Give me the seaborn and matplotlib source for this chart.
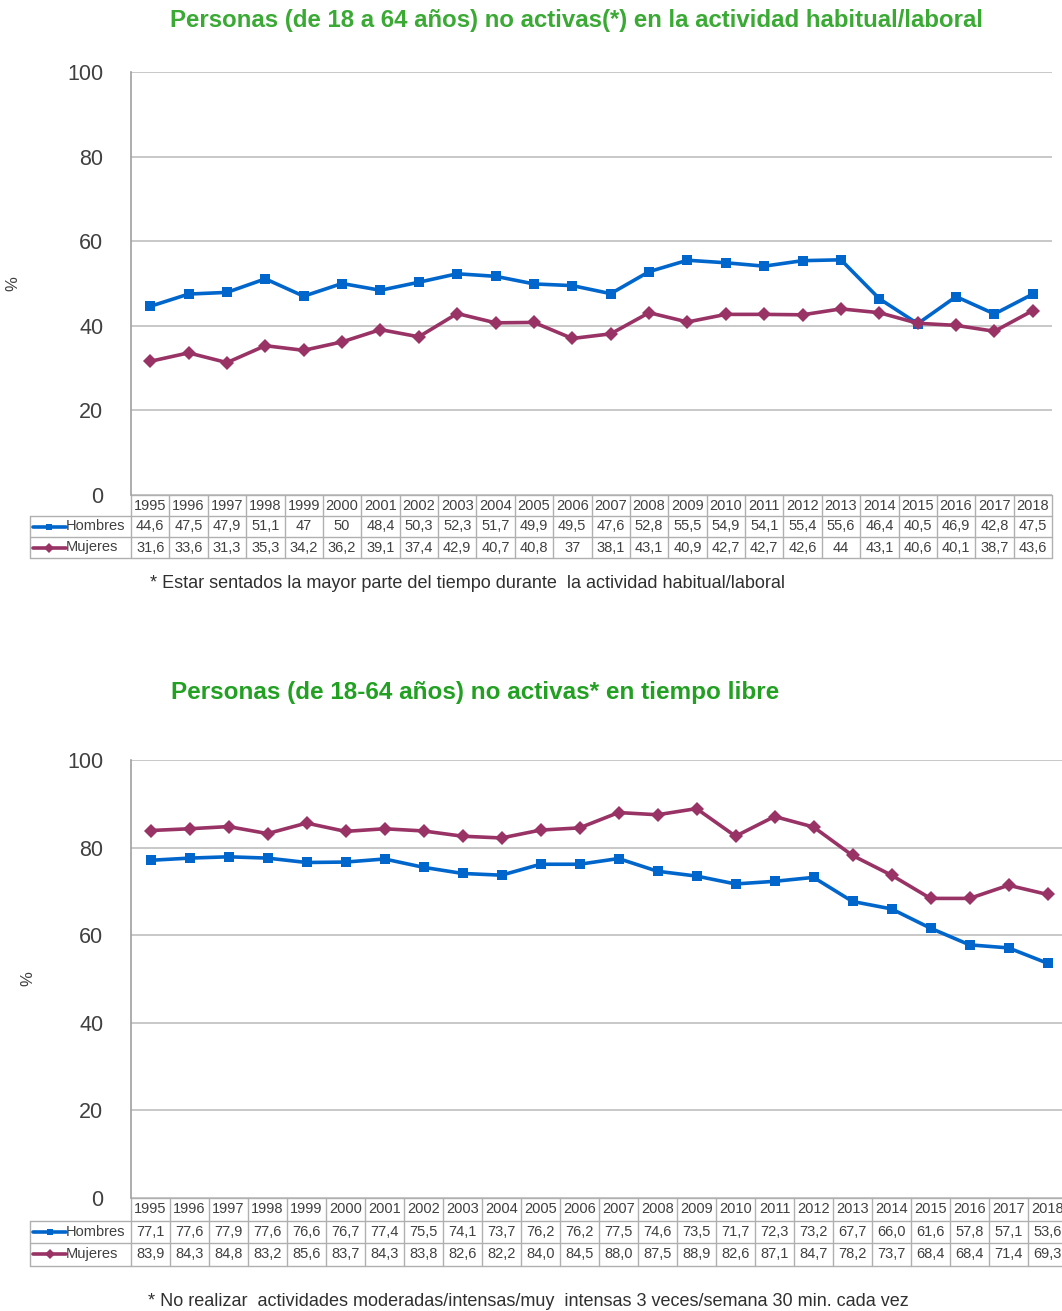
import numpy as np
import pandas as pd
import matplotlib
matplotlib.use("Agg")
import matplotlib.pyplot as plt
from matplotlib.lines import Line2D
import seaborn as sns

years = [str(y) for y in range(1995, 2019)]

# Panel 1: no activas en la actividad habitual/laboral
hombres_laboral = [44.6, 47.5, 47.9, 51.1, 47, 50, 48.4, 50.3, 52.3, 51.7, 49.9, 49.5,
                   47.6, 52.8, 55.5, 54.9, 54.1, 55.4, 55.6, 46.4, 40.5, 46.9, 42.8, 47.5]
mujeres_laboral = [31.6, 33.6, 31.3, 35.3, 34.2, 36.2, 39.1, 37.4, 42.9, 40.7, 40.8, 37,
                   38.1, 43.1, 40.9, 42.7, 42.7, 42.6, 44, 43.1, 40.6, 40.1, 38.7, 43.6]
labels_laboral_h = ["44,6", "47,5", "47,9", "51,1", "47", "50", "48,4", "50,3", "52,3", "51,7",
                    "49,9", "49,5", "47,6", "52,8", "55,5", "54,9", "54,1", "55,4", "55,6",
                    "46,4", "40,5", "46,9", "42,8", "47,5"]
labels_laboral_m = ["31,6", "33,6", "31,3", "35,3", "34,2", "36,2", "39,1", "37,4", "42,9", "40,7",
                    "40,8", "37", "38,1", "43,1", "40,9", "42,7", "42,7", "42,6", "44",
                    "43,1", "40,6", "40,1", "38,7", "43,6"]

# Panel 2: no activas en tiempo libre
hombres_libre = [77.1, 77.6, 77.9, 77.6, 76.6, 76.7, 77.4, 75.5, 74.1, 73.7, 76.2, 76.2,
                 77.5, 74.6, 73.5, 71.7, 72.3, 73.2, 67.7, 66.0, 61.6, 57.8, 57.1, 53.6]
mujeres_libre = [83.9, 84.3, 84.8, 83.2, 85.6, 83.7, 84.3, 83.8, 82.6, 82.2, 84.0, 84.5,
                 88.0, 87.5, 88.9, 82.6, 87.1, 84.7, 78.2, 73.7, 68.4, 68.4, 71.4, 69.3]

titles = ["Personas (de 18 a 64 años) no activas(*) en la actividad habitual/laboral",
          "Personas (de 18-64 años) no activas* en tiempo libre"]
notes = ["* Estar sentados la mayor parte del tiempo durante  la actividad habitual/laboral",
         "* No realizar  actividades moderadas/intensas/muy  intensas 3 veces/semana 30 min. cada vez"]

BLUE = "#0066CC"
MAROON = "#993366"
GREEN = "#3AAA35"
GRID = "#BFBFBF"
W, H = 1062, 1311

sns.set_theme(style="white")
plt.rcParams["font.family"] = ["Liberation Sans", "DejaVu Sans"]


def fmt(v):
    return f"{v:.1f}".replace(".", ",")


def draw_panel(fig, box, hombres, mujeres, lab_h, lab_m, row_px, ylab_px):
    left, top, right, bottom = box
    ax = fig.add_axes([left / W, 1 - bottom / H, (right - left) / W, (bottom - top) / H])
    df = pd.DataFrame({
        "x": list(range(len(years))) * 2,
        "valor": hombres + mujeres,
        "serie": ["Hombres"] * len(years) + ["Mujeres"] * len(years),
    })
    sns.lineplot(data=df, x="x", y="valor", hue="serie", style="serie",
                 palette={"Hombres": BLUE, "Mujeres": MAROON},
                 markers={"Hombres": "s", "Mujeres": "D"}, dashes=False,
                 markersize=7, markeredgewidth=0, linewidth=2.6, legend=False, ax=ax,
                 clip_on=False, zorder=5)
    h_ax = bottom - top
    w_ax = right - left
    ax.set_xlim(-0.5, len(years) - 0.5)
    ax.set_ylim(0, 100)
    ax.set_yticks([0, 20, 40, 60, 80, 100])
    ax.yaxis.grid(True, color=GRID, linewidth=1.2)
    ax.set_xticks([])
    ax.set_xlabel("")
    ax.set_ylabel("%", fontsize=12, color="#404040")
    ax.yaxis.set_label_coords((ylab_px - left) / w_ax, 0.5)
    ax.tick_params(axis="y", labelsize=15.5, labelcolor="#404040", length=0, pad=20)
    for s in ["top", "right", "bottom"]:
        ax.spines[s].set_visible(False)
    ax.spines["left"].set_color("#A0A0A0")
    ax.spines["left"].set_linewidth(1.2)

    # data table below the plot
    rh = row_px / h_ax
    tr = ax.get_xaxis_transform()
    n = len(years)
    lab_x0 = (30 - left) / w_ax
    lc = "#B0B0B0"
    fs = 10.5
    ax.add_line(Line2D([0, 1], [0, 0], transform=ax.transAxes, color=lc, lw=1, clip_on=False))
    for k in (1, 2, 3):
        ax.add_line(Line2D([lab_x0, 1], [-k * rh, -k * rh], transform=ax.transAxes,
                           color=lc, lw=1, clip_on=False))
    for i in range(n + 1):
        ax.add_line(Line2D([i - 0.5, i - 0.5], [0, -3 * rh], transform=tr, color=lc,
                           lw=1, clip_on=False))
    ax.add_line(Line2D([lab_x0, lab_x0], [-rh, -3 * rh], transform=ax.transAxes,
                       color=lc, lw=1, clip_on=False))
    for i in range(n):
        ax.text(i, -0.5 * rh, years[i], transform=tr, ha="center", va="center",
                fontsize=fs, color="#404040")
        ax.text(i, -1.5 * rh, lab_h[i], transform=tr, ha="center", va="center",
                fontsize=fs, color="#404040")
        ax.text(i, -2.5 * rh, lab_m[i], transform=tr, ha="center", va="center",
                fontsize=fs, color="#404040")
    for k, (name, col, mk) in enumerate([("Hombres", BLUE, "s"), ("Mujeres", MAROON, "D")]):
        yk = -(1.5 + k) * rh
        x0 = (33 - left) / w_ax
        x1 = (66 - left) / w_ax
        ax.add_line(Line2D([x0, x1], [yk, yk], transform=ax.transAxes, color=col, lw=2.6,
                           clip_on=False))
        ax.add_line(Line2D([(x0 + x1) / 2], [yk], transform=ax.transAxes, color=col,
                           marker=mk, markersize=5, markeredgewidth=0, clip_on=False))
        ax.text(x1, yk, name, transform=ax.transAxes, ha="left", va="center",
                fontsize=fs, color="#404040")
    return ax


fig = plt.figure(figsize=(W / 100, H / 100), dpi=100)

draw_panel(fig, (131, 72, 1052, 495), hombres_laboral, mujeres_laboral,
           labels_laboral_h, labels_laboral_m, 21, 20)
draw_panel(fig, (131, 760, 1067, 1198), hombres_libre, mujeres_libre,
           [fmt(v) for v in hombres_libre], [fmt(v) for v in mujeres_libre], 22.5, 35)

fig.text(576 / W, 1 - 20 / H, titles[0], ha="center", va="center", fontsize=17.3,
         fontweight="bold", color=GREEN)
fig.text(475 / W, 1 - 692 / H, titles[1], ha="center", va="center", fontsize=17.5,
         fontweight="bold", color="#22A022")
fig.text(150 / W, 1 - 584 / H, notes[0], ha="left", va="center", fontsize=13, color="#303030")
fig.text(148 / W, 1 - 1301 / H, notes[1], ha="left", va="center", fontsize=13, color="#303030")

fig.savefig("out.png", dpi=100)
